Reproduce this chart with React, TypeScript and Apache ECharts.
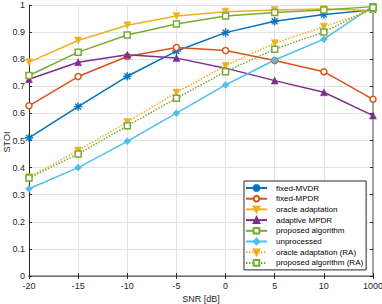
import React, { useEffect, useRef } from "react";
import * as echarts from "echarts";

const categories = ["-20", "-15", "-10", "-5", "0", "5", "10", "1000"];
const yTicks = [0, 0.1, 0.2, 0.3, 0.4, 0.5, 0.6, 0.7, 0.8, 0.9, 1];

const fixedMVDR = [0.51, 0.625, 0.737, 0.83, 0.898, 0.94, 0.965, 0.982];
const fixedMPDR = [0.628, 0.736, 0.81, 0.843, 0.832, 0.795, 0.754, 0.652];
const oracleAdaptation = [0.789, 0.869, 0.925, 0.959, 0.975, 0.982, 0.985, 0.98];
const adaptiveMPDR = [0.726, 0.789, 0.816, 0.804, 0.767, 0.721, 0.678, 0.592];
const proposedAlgorithm = [0.74, 0.826, 0.889, 0.93, 0.959, 0.972, 0.982, 0.994];
const unprocessed = [0.322, 0.4, 0.497, 0.601, 0.705, 0.797, 0.874, 0.996];
const oracleAdaptationRA = [0.365, 0.463, 0.568, 0.677, 0.776, 0.859, 0.92, 0.982];
const proposedAlgorithmRA = [0.362, 0.45, 0.554, 0.656, 0.754, 0.837, 0.9, 0.99];

const ASTERISK =
  "path://M-5,-0.6 L5,-0.6 L5,0.6 L-5,0.6 Z M-0.6,-5 L0.6,-5 L0.6,5 L-0.6,5 Z M-3.1,-3.95 L3.95,3.1 L3.1,3.95 L-3.95,-3.1 Z M3.1,-3.95 L3.95,-3.1 L-3.1,3.95 L-3.95,3.1 Z";
const TRI_DOWN = "path://M-5,-4 L5,-4 L0,4.5 Z";

export default function App() {
  const ref = useRef<HTMLDivElement>(null);
  useEffect(() => {
    if (!ref.current) return;
    const chart = echarts.init(ref.current, null, { renderer: "svg" });
    const font = "Liberation Sans";
    const axisColor = "#262626";
    const mk = (
      name: string,
      data: number[],
      color: string,
      symbol: string,
      size: number,
      dotted = false,
      hollow = false
    ) => ({
      name,
      type: "line",
      data,
      symbol,
      symbolSize: size,
      showAllSymbol: true,
      lineStyle: { color, width: 1.5, type: dotted ? [1.5, 1.5] : "solid" },
      itemStyle: hollow
        ? { color: "#ffffff", borderColor: color, borderWidth: 1.5 }
        : { color, borderColor: color, borderWidth: 0.5 },
      emphasis: { disabled: true },
      z: 3,
    });
    chart.setOption({
      animation: false,
      grid: {
        left: 29,
        right: 9,
        top: 5,
        bottom: 28,
        containLabel: false,
        outerBoundsMode: "none",
      },
      graphic: [
        {
          type: "text",
          x: 6.5,
          y: 142,
          rotation: Math.PI / 2,
          style: {
            text: "STOI",
            fontSize: 9,
            fontFamily: font,
            fill: axisColor,
            align: "center",
            verticalAlign: "middle",
          },
        },
      ],
      legend: {
        orient: "vertical",
        left: 244,
        top: 181,
        padding: [2, 3, 2, 1],
        itemWidth: 21,
        itemHeight: 7,
        itemGap: 0.7,
        backgroundColor: "#ffffff",
        borderColor: axisColor,
        borderWidth: 1,
        borderRadius: 0,
        textStyle: {
          fontSize: 8,
          lineHeight: 10,
          fontFamily: font,
          color: "#000",
          padding: [0, 0, 0, 4],
        },
        data: [
          "fixed-MVDR",
          "fixed-MPDR",
          "oracle adaptation",
          "adaptive MPDR",
          "proposed algorithm",
          "unprocessed",
          "oracle adaptation (RA)",
          "proposed algorithm (RA)",
        ],
      },
      xAxis: [
        {
          type: "category",
          data: categories,
          boundaryGap: false,
          name: "SNR [dB]",
          nameLocation: "middle",
          nameGap: 18,
          nameMoveOverlap: false,
          nameTextStyle: { fontSize: 9, fontFamily: font, color: axisColor },
          axisLine: { lineStyle: { color: axisColor, width: 1 } },
          axisTick: { inside: true, length: 3, alignWithLabel: true, lineStyle: { color: axisColor } },
          axisLabel: { fontSize: 9, fontFamily: font, color: axisColor, margin: 5 },
          splitLine: { show: true, lineStyle: { color: "#e3e3e3", width: 1 } },
        },
        {
          type: "category",
          data: categories,
          boundaryGap: false,
          position: "top",
          axisLine: { lineStyle: { color: "#8a8a8a", width: 1.5 } },
          axisTick: { inside: true, length: 3, alignWithLabel: true, lineStyle: { color: axisColor } },
          axisLabel: { show: false },
          splitLine: { show: false },
        },
      ],
      yAxis: [
        {
          type: "value",
          min: yTicks[0],
          max: yTicks[yTicks.length - 1],
          interval: 0.1,
          axisLine: { show: true, lineStyle: { color: axisColor, width: 1 } },
          axisTick: { show: true, inside: true, length: 3, lineStyle: { color: axisColor } },
          axisLabel: {
            fontSize: 9,
            fontFamily: font,
            color: axisColor,
            margin: 4,
            formatter: (v: number) => String(Math.round(v * 10) / 10),
          },
          splitLine: { show: true, lineStyle: { color: "#e3e3e3", width: 1 } },
        },
        {
          type: "value",
          min: yTicks[0],
          max: yTicks[yTicks.length - 1],
          interval: 0.1,
          position: "right",
          axisLine: { show: true, lineStyle: { color: "#8a8a8a", width: 1.5 } },
          axisTick: { show: true, inside: true, length: 3, lineStyle: { color: axisColor } },
          axisLabel: { show: false },
          splitLine: { show: false },
        },
      ],
      series: [
        mk("fixed-MVDR", fixedMVDR, "#0072BD", ASTERISK, 8),
        mk("fixed-MPDR", fixedMPDR, "#D95319", "circle", 6, false, true),
        mk("oracle adaptation", oracleAdaptation, "#EDB120", TRI_DOWN, 7),
        mk("adaptive MPDR", adaptiveMPDR, "#7E2F8E", "triangle", 7),
        mk("proposed algorithm", proposedAlgorithm, "#77AC30", "rect", 6, false, true),
        mk("unprocessed", unprocessed, "#4DBEEE", "diamond", 7),
        mk("oracle adaptation (RA)", oracleAdaptationRA, "#EDB120", TRI_DOWN, 7, true),
        mk("proposed algorithm (RA)", proposedAlgorithmRA, "#77AC30", "rect", 6, true, true),
      ],
    });
    return () => chart.dispose();
  }, []);
  return <div ref={ref} style={{ width: 382, height: 304, position: "absolute", left: 0, top: 0, background: "#fff" }} />;
}
